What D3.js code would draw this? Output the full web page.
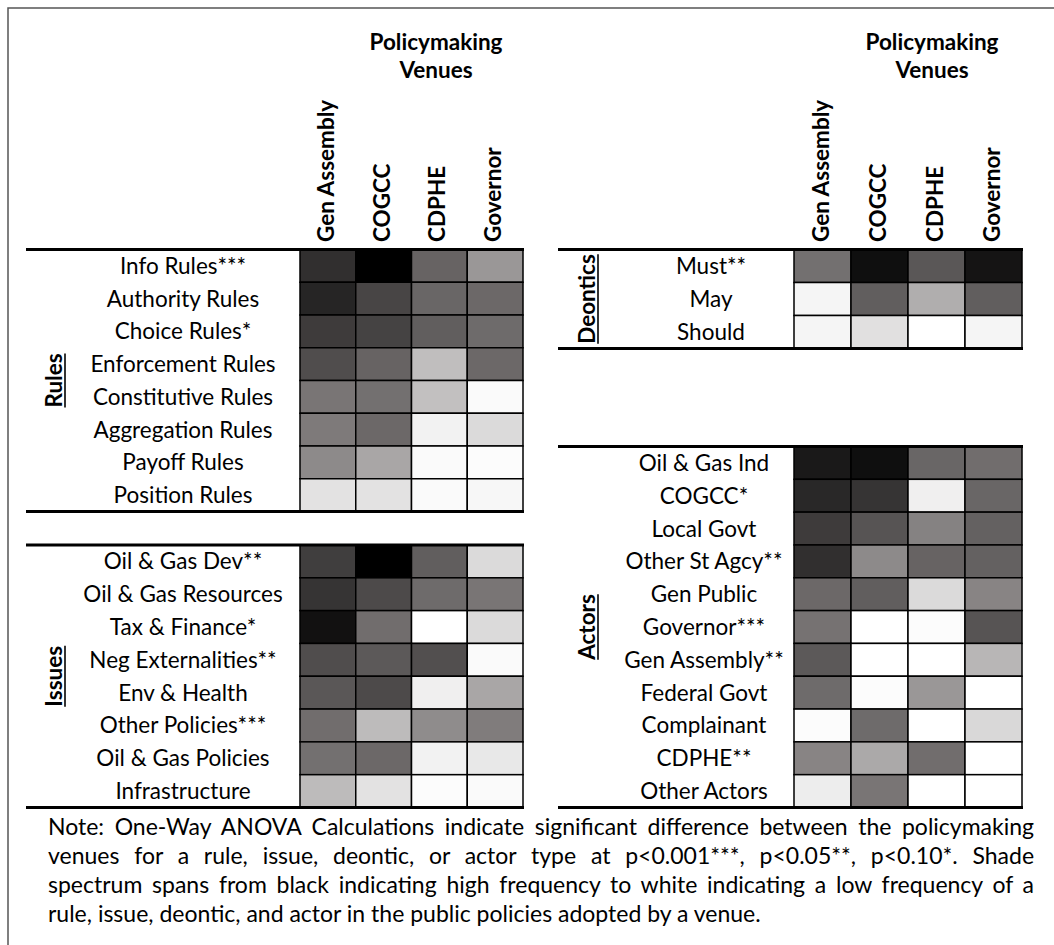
<!DOCTYPE html>
<html>
<head>
<meta charset="utf-8">
<script src="https://cdn.jsdelivr.net/npm/d3@7"></script>
<style>
  html, body { margin: 0; padding: 0; background: #fff; }
  svg { display: block; }
  text { font-family: Lato, "Open Sans", sans-serif; fill: #000; }
</style>
</head>
<body>
<svg id="chart" width="1054" height="945"></svg>
<script>
// ---------------- DATA ----------------
const venues = ["Gen Assembly", "COGCC", "CDPHE", "Governor"];
const headerLines = ["Policymaking", "Venues"];

// shade index: 0 = white (low frequency) ... 100 = black (high frequency)
const ruleLabels = ["Info Rules***", "Authority Rules", "Choice Rules*", "Enforcement Rules",
  "Constitutive Rules", "Aggregation Rules", "Payoff Rules", "Position Rules"];
const ruleShades = [
  [81, 100, 60, 40],
  [85, 72, 59, 58],
  [76, 73, 62, 57],
  [69, 60, 25, 58],
  [53, 55, 24, 2],
  [51, 58, 5, 14],
  [45, 34, 2, 1],
  [11, 11, 2, 3]
];

const issueLabels = ["Oil & Gas Dev**", "Oil & Gas Resources", "Tax & Finance*", "Neg Externalities**",
  "Env & Health", "Other Policies***", "Oil & Gas Policies", "Infrastructure"];
const issueShades = [
  [75, 100, 62, 14],
  [79, 70, 57, 53],
  [93, 56, 0, 14],
  [69, 64, 68, 2],
  [65, 70, 6, 34],
  [56, 26, 44, 50],
  [55, 58, 5, 9],
  [26, 11, 1, 2]
];

const deonticLabels = ["Must**", "May", "Should"];
const deonticShades = [
  [55, 94, 65, 92],
  [4, 62, 31, 62],
  [4, 12, 0, 4]
];

const actorLabels = ["Oil & Gas Ind", "COGCC*", "Local Govt", "Other St Agcy**", "Gen Public",
  "Governor***", "Gen Assembly**", "Federal Govt", "Complainant", "CDPHE**", "Other Actors"];
const actorShades = [
  [90, 94, 59, 56],
  [84, 79, 6, 59],
  [76, 66, 48, 61],
  [81, 45, 60, 61],
  [58, 62, 14, 47],
  [54, 0, 1, 66],
  [64, 0, 0, 28],
  [57, 1, 40, 0],
  [1, 57, 0, 15],
  [47, 33, 56, 0],
  [7, 53, 0, 0]
];

const noteLines = [
  "Note: One-Way ANOVA Calculations indicate significant difference between the policymaking",
  "venues for a rule, issue, deontic, or actor type at p<0.001***, p<0.05**, p<0.10*. Shade",
  "spectrum spans from black indicating high frequency to white indicating a low frequency of a",
  "rule, issue, deontic, and actor in the public policies adopted by a venue."
];

// ---------------- DRAW ----------------
const svg = d3.select("#chart");

// outer frame
svg.append("rect")
  .attr("x", 8).attr("y", 8).attr("width", 1060).attr("height", 960)
  .attr("fill", "none").attr("stroke", "#555").attr("stroke-width", 1.5);

const color = d3.scaleLinear()
  .domain([0, 54, 100])
  .range(["#ffffff", "#767272", "#000000"]);

const BOLD = 22.5;
const REG = 22.5;

function drawHeader(cx, x0, x1) {
  const xs = d3.scaleBand().domain(venues).range([x0, x1]);
  svg.selectAll(null).data(headerLines).enter().append("text")
    .attr("x", cx)
    .attr("y", (d, i) => 50 + i * 28)
    .attr("text-anchor", "middle")
    .attr("font-weight", "bold")
    .attr("font-size", BOLD)
    .text(d => d);
  svg.selectAll(null).data(venues).enter().append("text")
    .attr("transform", d => `translate(${xs(d) + xs.bandwidth() / 2 + 6},242) rotate(-90)`)
    .attr("font-weight", "bold")
    .attr("font-size", BOLD)
    .text(d => d);
}

function drawTable(cfg) {
  const xs = d3.scaleBand().domain(venues).range([cfg.x0, cfg.x1]);
  const ys = d3.scaleBand().domain(cfg.labels).range([cfg.top, cfg.bottom]);
  const g = svg.append("g");

  const rows = cfg.labels.map((lab, i) => ({ lab, vals: cfg.shades[i] }));
  const cells = [];
  rows.forEach(r => r.vals.forEach((v, j) => cells.push({ lab: r.lab, venue: venues[j], v })));

  g.selectAll("rect.cell").data(cells).enter().append("rect")
    .attr("class", "cell")
    .attr("x", d => xs(d.venue))
    .attr("y", d => ys(d.lab))
    .attr("width", xs.bandwidth())
    .attr("height", ys.bandwidth())
    .attr("fill", d => color(d.v))
    .attr("stroke", "#000")
    .attr("stroke-width", 1.5);

  g.selectAll("text.lab").data(cfg.labels).enter().append("text")
    .attr("class", "lab")
    .attr("x", cfg.labelX)
    .attr("y", d => ys(d) + ys.bandwidth() / 2 + 8)
    .attr("text-anchor", "middle")
    .attr("font-size", REG)
    .text(d => d);

  // thick rules top and bottom
  [cfg.top, cfg.bottom].forEach(y => {
    g.append("line")
      .attr("x1", cfg.lineX0).attr("x2", cfg.x1 + 1)
      .attr("y1", y).attr("y2", y)
      .attr("stroke", "#000").attr("stroke-width", 3);
  });

  // group label, rotated & underlined
  const cy = (cfg.top + cfg.bottom) / 2;
  const gl = g.append("text")
    .attr("transform", `translate(${cfg.groupX},${cy}) rotate(-90)`)
    .attr("text-anchor", "middle")
    .attr("font-weight", "bold")
    .attr("font-size", BOLD)
    .text(cfg.group);
  const len = gl.node().getComputedTextLength();
  g.append("line")
    .attr("x1", cfg.groupX + 3).attr("x2", cfg.groupX + 3)
    .attr("y1", cy - len / 2).attr("y2", cy + len / 2)
    .attr("stroke", "#000").attr("stroke-width", 1.6);
}

drawHeader(436, 300, 523);
drawHeader(932, 794, 1022);

drawTable({ labels: ruleLabels, shades: ruleShades, x0: 300, x1: 523, top: 249.5, bottom: 511.5,
  labelX: 183, lineX0: 26, group: "Rules", groupX: 62 });
drawTable({ labels: issueLabels, shades: issueShades, x0: 300, x1: 523, top: 545, bottom: 807.5,
  labelX: 183, lineX0: 26, group: "Issues", groupX: 62 });
drawTable({ labels: deonticLabels, shades: deonticShades, x0: 794, x1: 1022, top: 249.5, bottom: 348.5,
  labelX: 711, lineX0: 558, group: "Deontics", groupX: 595 });
drawTable({ labels: actorLabels, shades: actorShades, x0: 794, x1: 1022, top: 446.5, bottom: 807.5,
  labelX: 704, lineX0: 558, group: "Actors", groupX: 595 });

// note (justified by widening word spaces, last line ragged)
const NOTE_X = 48, NOTE_W = 986;
svg.selectAll("text.note").data(noteLines).enter().append("text")
  .attr("class", "note")
  .attr("x", NOTE_X)
  .attr("y", (d, i) => 835 + i * 29)
  .attr("font-size", 23)
  .text(d => d)
  .each(function (d, i) {
    if (i < noteLines.length - 1) {
      const w = this.getComputedTextLength();
      const n = (d.match(/ /g) || []).length;
      d3.select(this).attr("word-spacing", ((NOTE_W - w) / n).toFixed(2));
    }
  });
</script>
</body>
</html>
